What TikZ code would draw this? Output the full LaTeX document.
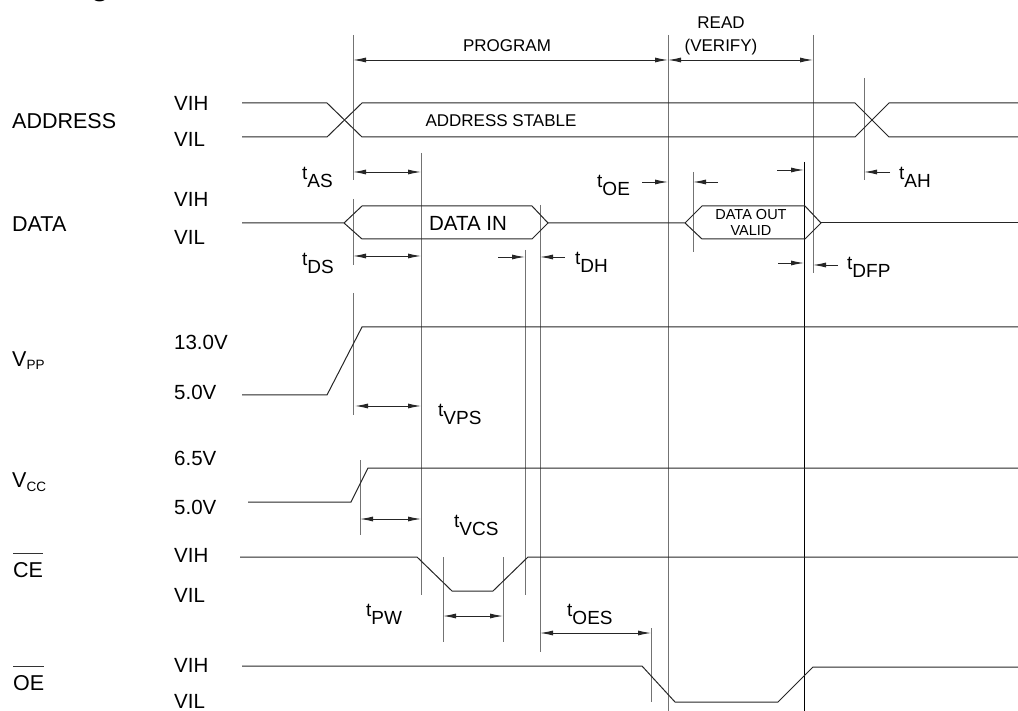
\documentclass[tikz,border=0pt]{standalone}
\usepackage{fontspec}
\setmainfont{Liberation Sans}
\usetikzlibrary{arrows.meta}
\newcommand{\tsub}[1]{t\raisebox{-8pt}{#1}}
\begin{document}
\begin{tikzpicture}[x=1pt,y=-1pt,
  sig/.style={draw=black!85,line width=1pt},
  vline/.style={draw=black!55,line width=1pt},
  dimarr/.style={draw=black!85,line width=0.9pt,{Latex[length=13pt,width=5pt]}-{Latex[length=13pt,width=5pt]}},
  onearr/.style={draw=black!85,line width=0.9pt,-{Latex[length=13pt,width=5pt]}},
  sidelbl/.style={font=\fontsize{21.5}{24}\selectfont,inner sep=0pt,anchor=west},
  lvllbl/.style={font=\fontsize{20.5}{24}\selectfont,inner sep=0pt,anchor=west},
  tlbl/.style={font=\fontsize{19}{22}\selectfont,inner sep=0pt,anchor=base west},
  boxtxt/.style={font=\fontsize{17}{20}\selectfont,inner sep=0pt},
  outtxt/.style={font=\fontsize{14.5}{15}\selectfont,inner sep=0pt},
]
\useasboundingbox (0,0) rectangle (1018,711);

% cut-off title fragment
\node[font=\fontsize{30}{32}\selectfont\bfseries,inner sep=0pt,anchor=base] (title) at (100,-4) {g};

% ---------- left labels ----------
\node[sidelbl] (lAddr) at (12,121) {ADDRESS};
\node[sidelbl] (lData) at (12,224) {DATA};
\node[sidelbl,anchor=base west] (lVpp) at (12,367) {V\raisebox{-2.5pt}{\fontsize{13.5}{14}\selectfont PP}};
\node[sidelbl,anchor=base west] (lVcc) at (12,487) {V\raisebox{-4pt}{\fontsize{13.5}{14}\selectfont CC}};
\node[sidelbl] (lCE) at (13,570) {CE};
\node[sidelbl] (lOE) at (13,683) {OE};
\draw[line width=1pt,draw=black!80] ([yshift=9pt]lCE.north west) -- ([yshift=9pt]lCE.north east);
\draw[line width=1pt,draw=black!80] ([yshift=9pt]lOE.north west) -- ([yshift=9pt]lOE.north east);

\node[lvllbl] (aH) at (174,103) {VIH};
\node[lvllbl] (aL) at (174,139) {VIL};
\node[lvllbl] (dH) at (174,199) {VIH};
\node[lvllbl] (dL) at (174,237) {VIL};
\node[lvllbl] (pH) at (174,342) {13.0V};
\node[lvllbl] (pL) at (174,392) {5.0V};
\node[lvllbl] (cH) at (174,458) {6.5V};
\node[lvllbl] (cL) at (174,507) {5.0V};
\node[lvllbl] (eH) at (174,555) {VIH};
\node[lvllbl] (eL) at (174,595) {VIL};
\node[lvllbl] (oH) at (174,665) {VIH};
\node[lvllbl] (oL) at (174,701) {VIL};

% ---------- vertical reference lines ----------
\coordinate (v1a) at (353,35);  \coordinate (v1b) at (353,180);
\coordinate (v1c) at (353,199); \coordinate (v1d) at (353,265);
\coordinate (v1e) at (353,293); \coordinate (v1f) at (353,415);
\coordinate (vca) at (360,460); \coordinate (vcb) at (360,535);
\coordinate (v2a) at (421,153); \coordinate (v2b) at (421,595);
\coordinate (v3a) at (525,250); \coordinate (v3b) at (525,595);
\coordinate (v4a) at (540,205); \coordinate (v4b) at (540,652);
\coordinate (v5a) at (668,35);  \coordinate (v5b) at (668,711);
\coordinate (v6a) at (813,35);  \coordinate (v6b) at (813,273);
\coordinate (v7a) at (804,162); \coordinate (v7b) at (804,711);
\coordinate (v8a) at (864,78);  \coordinate (v8b) at (864,180);
\coordinate (v9a) at (693,172); \coordinate (v9b) at (693,252);
\coordinate (v10a) at (651,628); \coordinate (v10b) at (651,702);
\coordinate (v11a) at (443,557); \coordinate (v11b) at (443,642);
\coordinate (v12a) at (503,557); \coordinate (v12b) at (503,642);

\draw[vline] (v1a) -- (v1b);
\draw[vline] (v1c) -- (v1d);
\draw[vline] (v1e) -- (v1f);
\draw[vline] (vca) -- (vcb);
\draw[vline] (v2a) -- (v2b);
\draw[vline] (v3a) -- (v3b);
\draw[vline] (v4a) -- (v4b);
\draw[vline] (v5a) -- (v5b);
\draw[vline] (v6a) -- (v6b);
\draw[vline,draw=black] (v7a) -- (v7b);
\draw[vline] (v8a) -- (v8b);
\draw[vline] (v9a) -- (v9b);
\draw[vline] (v10a) -- (v10b);
\draw[vline] (v11a) -- (v11b);
\draw[vline] (v12a) -- (v12b);

% ---------- signals ----------
% ADDRESS
\draw[sig] (242,103) -- (327,103) -- (362,137) -- (855,137) -- (889,103) -- (1018,103);
\draw[sig] (242,137) -- (327,137) -- (362,103) -- (855,103) -- (889,137) -- (1018,137);
\node[boxtxt] (addst) at (501,121) {ADDRESS STABLE};

% DATA
\draw[sig] (242,223) -- (344,223) -- (362,206) -- (532,206) -- (548,223) -- (532,239) -- (362,239) -- (344,223);
\draw[sig] (548,223) -- (685,223) -- (702,206) -- (805,206) -- (821,223) -- (805,239) -- (702,239) -- (685,223);
\draw[sig] (821,223) -- (1018,223);
\node[font=\fontsize{20.5}{24}\selectfont,inner sep=0pt] (din) at (468,223) {DATA IN};
\node[outtxt,anchor=base] (dout1) at (751,220) {DATA OUT};
\node[outtxt,anchor=base] (dout2) at (751,236) {VALID};

% VPP
\draw[sig] (242,395) -- (327,395) -- (362,327) -- (1018,327);
% VCC
\draw[sig] (248,502) -- (351,502) -- (368,468) -- (1018,468);
% CE
\draw[sig] (240,557) -- (417,557) -- (452,591) -- (493,591) -- (528,557) -- (1018,557);
% OE
\draw[sig] (242,666) -- (642,666) -- (675,702) -- (778,702) -- (813,667) -- (1018,667);

% ---------- phase arrows ----------
\coordinate (pL) at (353,60); \coordinate (pM) at (668,60); \coordinate (pR) at (813,60);
\draw[dimarr] (pL) -- (pM);
\draw[dimarr] (pM) -- (pR);
\node[boxtxt] (prog) at (507,46) {PROGRAM};
\node[boxtxt] (read) at (721,23) {READ};
\node[boxtxt] (verify) at (721,47) {(VERIFY)};

% ---------- timing arrows ----------
\coordinate (asL) at (353,172); \coordinate (asR) at (421,172);
\draw[dimarr] (asL) -- (asR);
\coordinate (oeS) at (642,182); \coordinate (oeE) at (668,182);
\draw[onearr] (oeS) -- (oeE);
\coordinate (dvS) at (718,182); \coordinate (dvE) at (693,182);
\draw[onearr] (dvS) -- (dvE);
\coordinate (dwS) at (777,170); \coordinate (dwE) at (804,170);
\draw[onearr] (dwS) -- (dwE);
\coordinate (ahS) at (890,172); \coordinate (ahE) at (864,172);
\draw[onearr] (ahS) -- (ahE);
\coordinate (dsL) at (353,256); \coordinate (dsR) at (421,256);
\draw[dimarr] (dsL) -- (dsR);
\coordinate (dh1S) at (498,257); \coordinate (dh1E) at (525,257);
\draw[onearr] (dh1S) -- (dh1E);
\coordinate (dh2S) at (565,257); \coordinate (dh2E) at (540,257);
\draw[onearr] (dh2S) -- (dh2E);
\coordinate (df1S) at (778,263); \coordinate (df1E) at (804,263);
\draw[onearr] (df1S) -- (df1E);
\coordinate (df2S) at (838,265); \coordinate (df2E) at (813,265);
\draw[onearr] (df2S) -- (df2E);
\coordinate (vpL) at (355,406); \coordinate (vpR) at (421,406);
\draw[dimarr] (vpL) -- (vpR);
\coordinate (vcL) at (360,519); \coordinate (vcR) at (421,519);
\draw[dimarr] (vcL) -- (vcR);
\coordinate (pwL) at (443,616); \coordinate (pwR) at (503,616);
\draw[dimarr] (pwL) -- (pwR);
\coordinate (osL) at (540,633); \coordinate (osR) at (651,633);
\draw[dimarr] (osL) -- (osR);

% ---------- timing labels ----------
\node[tlbl] (tAS) at (302,180) {\tsub{AS}};
\node[tlbl] (tOE) at (597,188) {\tsub{OE}};
\node[tlbl] (tAH) at (899,180) {\tsub{AH}};
\node[tlbl] (tDS) at (302,266) {\tsub{DS}};
\node[tlbl] (tDH) at (575,265) {\tsub{DH}};
\node[tlbl] (tDFP) at (847,270) {\tsub{DFP}};
\node[tlbl] (tVPS) at (438,417) {\tsub{VPS}};
\node[tlbl] (tVCS) at (454,527) {\tsub{VCS}};
\node[tlbl] (tPW) at (366,616) {\tsub{PW}};
\node[tlbl] (tOES) at (567,616) {\tsub{OES}};
\end{tikzpicture}
\end{document}
